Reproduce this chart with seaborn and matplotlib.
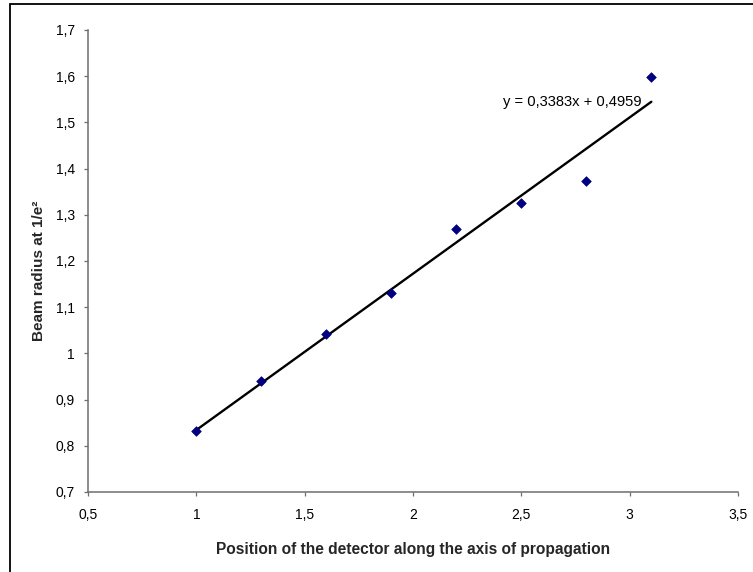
import matplotlib

matplotlib.use("Agg")
import matplotlib.pyplot as plt
import numpy as np
import pandas as pd
import seaborn as sns
from matplotlib.patches import Rectangle
from matplotlib.ticker import FuncFormatter, MultipleLocator

# data
positions = [1.0, 1.3, 1.6, 1.9, 2.2, 2.5, 2.8, 3.1]
beam_radius = [0.833, 0.941, 1.042, 1.130, 1.269, 1.325, 1.373, 1.598]
fit_slope = 0.3383
fit_intercept = 0.4959

X_LABEL = "Position of the detector along the axis of propagation"
Y_LABEL = "Beam radius at 1/e²"


def comma_fmt(v, _pos):
    txt = f"{v:g}"
    return txt.replace(".", ",")


def main() -> None:
    sns.set_theme(style="white")
    plt.rcParams["font.family"] = ["Liberation Sans", "DejaVu Sans"]

    df = pd.DataFrame({"x": positions, "y": beam_radius})
    x_fit = np.array([min(positions), max(positions)])
    fit_df = pd.DataFrame({"x": x_fit, "y": fit_slope * x_fit + fit_intercept})

    fig = plt.figure(figsize=(7.53, 5.72), dpi=100)
    ax = fig.add_axes([0.1169, 0.1399, 0.8632, 0.8077])

    sns.lineplot(data=fit_df, x="x", y="y", ax=ax, color="black", linewidth=1.7)
    sns.scatterplot(data=df, x="x", y="y", ax=ax, marker="D", s=24,
                    color="#000080", edgecolor="#000080", linewidth=0.5, zorder=3)

    eq = f"y = {fit_slope:.4f}x + {fit_intercept:.4f}".replace(".", ",")
    ax.text(3.055, 1.5446 + 0.0005, eq, ha="right", va="center", fontsize=10.6, color="black")

    ax.set_xlim(0.5, 3.5)
    ax.set_ylim(0.7, 1.7)
    ax.xaxis.set_major_locator(MultipleLocator(0.5))
    ax.yaxis.set_major_locator(MultipleLocator(0.1))
    ax.xaxis.set_major_formatter(FuncFormatter(comma_fmt))
    ax.yaxis.set_major_formatter(FuncFormatter(comma_fmt))

    for side in ("top", "right"):
        ax.spines[side].set_visible(False)
    for side in ("left", "bottom"):
        ax.spines[side].set_color("#6e6e6e")
        ax.spines[side].set_linewidth(1.1)
    ax.tick_params(axis="both", direction="out", length=3, width=0.9,
                   color="#6e6e6e", labelsize=10, labelcolor="black")
    ax.tick_params(axis="x", pad=8.5)
    ax.tick_params(axis="y", pad=6.5)
    ax.tick_params(left=True, bottom=True)

    ax.set_xlabel(X_LABEL, fontsize=11.2, fontweight="bold")
    ax.set_ylabel(Y_LABEL, fontsize=11, fontweight="bold")
    ax.xaxis.set_label_coords(0.5, -0.108)
    ax.yaxis.set_label_coords(-0.064, 0.478)

    # outer chart frame (cut off at the right and bottom edges)
    frame = Rectangle((9.5 / 753, -0.05), 1.2, (572 - 4) / 572 + 0.05,
                      transform=fig.transFigure, fill=False,
                      edgecolor="black", linewidth=1.3, zorder=10)
    fig.add_artist(frame)

    fig.savefig("out.png", dpi=100)
    plt.close(fig)


if __name__ == "__main__":
    main()
